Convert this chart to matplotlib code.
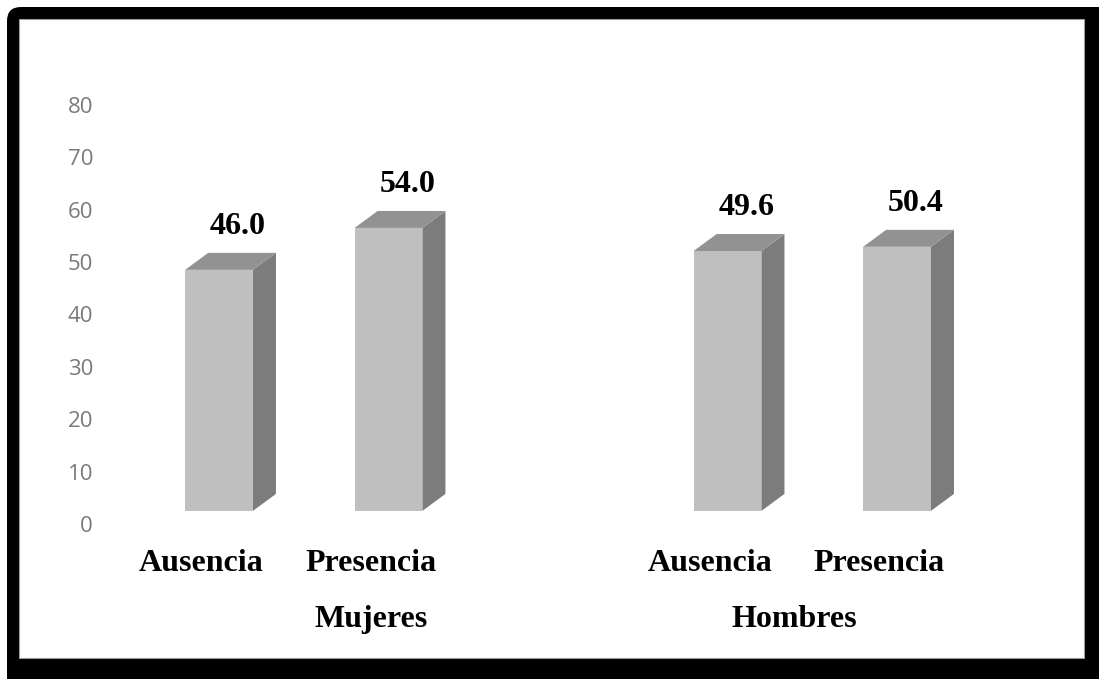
import matplotlib.pyplot as plt
from matplotlib.patches import Rectangle, Polygon, FancyBboxPatch

# datos
grupos = ['Mujeres', 'Hombres']
categorias = ['Ausencia', 'Presencia', 'Ausencia', 'Presencia']
valores = [46.0, 54.0, 49.6, 50.4]
yticks = [0, 10, 20, 30, 40, 50, 60, 70, 80]

# posiciones de las barras (hueco entre grupos) y centro de cada grupo
pos = [0, 1, 3, 4]
pos_grupo = [1, 3.5]

W, H = 1099, 679
fig = plt.figure(figsize=(W / 100, H / 100), dpi=100)

# marco negro redondeado en pixeles
bg = fig.add_axes([0, 0, 1, 1], zorder=0)
bg.set_xlim(0, W)
bg.set_ylim(H, 0)
bg.axis('off')
bg.add_patch(FancyBboxPatch((7, 7), 1120, 700, boxstyle='round,pad=0,rounding_size=14',
                            facecolor='black', edgecolor='none'))
bg.add_patch(Rectangle((19, 19), 1065, 639, facecolor='white', edgecolor='#9a9a9a', lw=0.8))

# ejes del grafico: x en "slots", y en las unidades de la escala
x0, sx = 219, 169.5      # px del slot 0 y px por slot
y0, sy = 524, 5.24       # px del valor 0 y px por unidad
left, right, top, bottom = 100, 1000, 80, 560
ax = fig.add_axes([left / W, 1 - bottom / H, (right - left) / W, (bottom - top) / H], zorder=1)
ax.patch.set_alpha(0)
ax.set_xlim((left - x0) / sx, (right - x0) / sx)
ax.set_ylim((y0 - bottom) / sy, (y0 - top) / sy)
for s in ax.spines.values():
    s.set_visible(False)
ax.set_xticks([])
ax.set_yticks(yticks)
ax.tick_params(axis='y', length=0, pad=5, labelsize=16, labelcolor='#7a7a7a')
for lab in ax.get_yticklabels():
    lab.set_fontfamily('Open Sans')

# barras 3D
w = 0.40                 # ancho de la cara frontal
dx, dy = 0.136, 3.24     # profundidad
base = 2.5
c_front, c_top, c_side = '#bfbfbf', '#929292', '#7c7c7c'
serif = 'Liberation Serif'

for p, v in zip(pos, valores):
    xl, xr = p - w / 2, p + w / 2
    yt = base + v
    ax.add_patch(Polygon([(xr, base), (xr + dx, base + dy), (xr + dx, yt + dy), (xr, yt)],
                         closed=True, facecolor=c_side, edgecolor='none'))
    ax.add_patch(Polygon([(xl, yt), (xr, yt), (xr + dx, yt + dy), (xl + dx, yt + dy)],
                         closed=True, facecolor=c_top, edgecolor='none'))
    ax.add_patch(Rectangle((xl, base), w, v, facecolor=c_front, edgecolor='none'))
    ax.text(p + 0.11, yt + dy + 3.6, f'{v:.1f}', ha='center', va='baseline',
            fontsize=23, fontweight='bold', family=serif, color='black')

# etiquetas de categoria y de grupo
trans = ax.get_xaxis_transform()
for p, c in zip(pos, categorias):
    ax.text(p - 0.105, 1 - (571 - top) / (bottom - top), c, transform=trans,
            ha='center', va='baseline', fontsize=23, fontweight='bold', family=serif,
            clip_on=False)
for p, g in zip(pos_grupo, grupos):
    ax.text(p - 0.105, 1 - (627 - top) / (bottom - top), g, transform=trans,
            ha='center', va='baseline', fontsize=23, fontweight='bold', family=serif,
            clip_on=False)

fig.savefig('out.png', dpi=100)
